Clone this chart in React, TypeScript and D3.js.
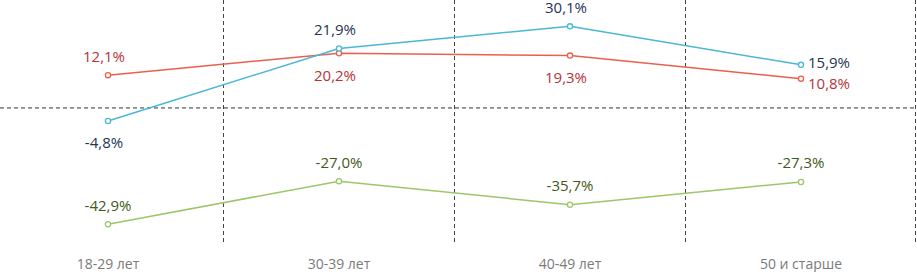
import React from "react";
import * as d3 from "d3";

const categories = ["18-29 лет", "30-39 лет", "40-49 лет", "50 и старше"];
const blueValues = [-4.8, 21.9, 30.1, 15.9];
const redValues = [12.1, 20.2, 19.3, 10.8];
const greenValues = [-42.9, -27.0, -35.7, -27.3];
const blueLabels = ["-4,8%", "21,9%", "30,1%", "15,9%"];
const redLabels = ["12,1%", "20,2%", "19,3%", "10,8%"];
const greenLabels = ["-42,9%", "-27,0%", "-35,7%", "-27,3%"];

type Place = "above" | "below" | "right";
const bluePlace: Place[] = ["below", "above", "above", "right"];
const redPlace: Place[] = ["above", "below", "below", "right"];
const greenPlace: Place[] = ["above", "above", "above", "above"];

const W = 917;
const H = 272;
const FONT = "'Open Sans', 'Noto Sans', sans-serif";

export default function App() {
  const x = d3.scaleBand<string>().domain(categories).range([-7.5, 916.5]);
  const y = d3.scaleLinear().domain([-50, 40]).range([243.5, -0.5]);
  const cx = (c: string) => (x(c) as number) + x.bandwidth() / 2;

  const series = [
    { values: redValues, labels: redLabels, place: redPlace, line: "#E8604E", text: "#B8323A", rightDy: 10, dx: -4 },
    { values: blueValues, labels: blueLabels, place: bluePlace, line: "#4BB7D6", text: "#1F3556", rightDy: 3, dx: -4 },
    { values: greenValues, labels: greenLabels, place: greenPlace, line: "#9CC66A", text: "#3F5A22", rightDy: 4, dx: 0 },
  ];

  const line = d3
    .line<number>()
    .x((_, i) => cx(categories[i]))
    .y((v) => y(v));

  const gridX = categories.map((c) => (x(c) as number) + x.bandwidth());

  return (
    <svg width={W} height={H} style={{ position: "absolute", left: 0, top: 0, background: "#fff" }}>
      {gridX.map((gx, i) => (
        <line
          key={"g" + i}
          x1={Math.min(gx, 915.5)}
          x2={Math.min(gx, 915.5)}
          y1={0}
          y2={y(-50)}
          stroke="#444"
          strokeWidth={1}
          strokeDasharray="4,3"
        />
      ))}
      <line x1={0} x2={W} y1={y(0)} y2={y(0)} stroke="#333" strokeWidth={1} strokeDasharray="4,3" />
      {series.map((s, si) => (
        <g key={"s" + si}>
          <path d={line(s.values) || ""} fill="none" stroke={s.line} strokeWidth={1.5} />
          {s.values.map((v, i) => (
            <circle key={i} cx={cx(categories[i])} cy={y(v)} r={2.6} fill="#fff" stroke={s.line} strokeWidth={1.3} />
          ))}
          {s.values.map((v, i) => {
            const px = cx(categories[i]);
            const py = y(v);
            const p = s.place[i];
            let tx = px + s.dx;
            let ty = Math.max(py - 13.5, 13);
            let anchor: "middle" | "start" = "middle";
            if (p === "below") ty = py + 27.5;
            if (p === "right") {
              tx = px + 7;
              ty = py + s.rightDy;
              anchor = "start";
            }
            return (
              <text
                key={"t" + i}
                x={tx}
                y={ty}
                textAnchor={anchor}
                fontFamily={FONT}
                fontSize={15}
                fill={s.text}
              >
                {s.labels[i]}
              </text>
            );
          })}
        </g>
      ))}
      {categories.map((c) => (
        <text key={c} x={cx(c)} y={269} textAnchor="middle" fontFamily={FONT} fontSize={14} fill="#7A7A7A">
          {c}
        </text>
      ))}
    </svg>
  );
}
